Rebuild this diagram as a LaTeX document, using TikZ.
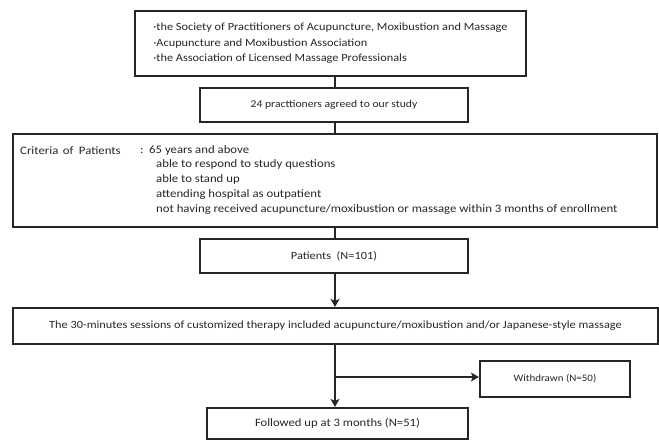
\documentclass[tikz,border=0pt]{standalone}
\usepackage{fontspec}
\setmainfont{Carlito}[FakeStretch=1.12]
\usetikzlibrary{arrows.meta}
\begin{document}
\begin{tikzpicture}[x=1pt,y=-1pt,
  box/.style={draw=black!85,line width=2.2pt,rectangle,inner sep=0pt,font=\fontsize{11}{15.5}\selectfont,text=black!85},
  small/.style={font=\fontsize{11.4}{14.8}\selectfont,text=black!85,inner sep=0pt},
  link/.style={draw=black!85,line width=1.8pt},
  arr/.style={link,-{Stealth[length=8pt,width=9pt,inset=2pt]}}]
\useasboundingbox (0,0) rectangle (659,440);
\node[box,minimum width=391pt,minimum height=65pt,align=left] (b1) at (330.5,43.5)
 {·the Society of Practitioners of Acupuncture, Moxibustion and Massage\\
  ·Acupuncture and Moxibustion Association\\
  ·the Association of Licensed Massage Professionals};
\node[box,minimum width=268pt,minimum height=34pt,font=\fontsize{10.4}{12}\selectfont] (b2) at (334,105) {24 practtioners agreed to our study};
\node[box,minimum width=644pt,minimum height=93pt] (b3) at (335,180.5) {};
\node[small,anchor=west] (crit) at (20,151) {Criteria\hspace{4.5pt}of\hspace{5.5pt}Patients};
\node[small,anchor=west] (colon) at (140,151) {:};
\node[small,anchor=north west,align=left] (list) at (149,145)
 {65 years and above\\
  \hspace*{7pt}able to respond to study questions\\
  \hspace*{7pt}able to stand up\\
  \hspace*{7pt}attending hospital as outpatient\\
  \hspace*{7pt}not having received acupuncture/moxibustion or massage within 3 months of enrollment};
\node[box,minimum width=268pt,minimum height=34pt,font=\fontsize{11}{12}\selectfont] (pt) at (334,256) {Patients\ \ (N=101)};
\node[box,minimum width=645pt,minimum height=36pt,font=\fontsize{11}{12}\selectfont] (th) at (335.5,326)
 {The 30-minutes sessions of customized therapy included acupuncture/moxibustion and/or Japanese-style massage};
\node[box,minimum width=150pt,minimum height=36pt,font=\fontsize{9.8}{12}\selectfont] (wd) at (555,379) {Withdrawn (N=50)};
\node[box,minimum width=261pt,minimum height=31pt,font=\fontsize{11.3}{12}\selectfont] (fu) at (337.5,423.5) {Followed up at 3 months (N=51)};
\draw[link] (b2.north -| 335,0) -- (b1.south -| 335,0);
\draw[link] (b2.south -| 335,0) -- (b3.north -| 335,0);
\draw[link] (b3.south -| 335,0) -- (pt.north -| 335,0);
\draw[arr] (pt.south -| 335,0) -- (th.north -| 335,0);
\coordinate (br) at (335,377);
\draw[arr] (th.south -| 335,0) -- (fu.north -| 335,0);
\draw[arr] (br) -- (br -| wd.west);
\end{tikzpicture}
\end{document}
